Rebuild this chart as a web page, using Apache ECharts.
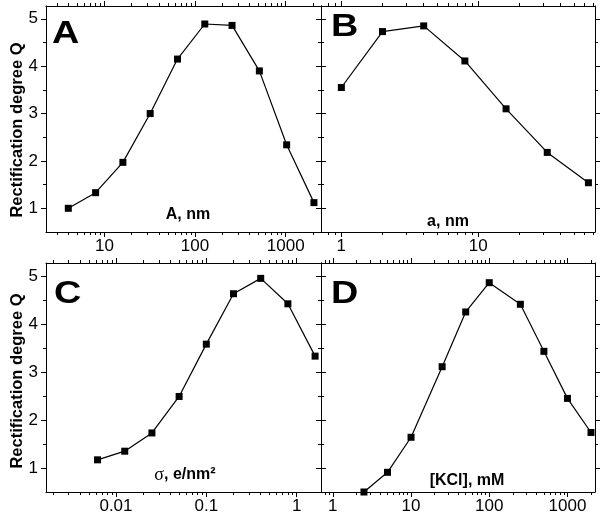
<!DOCTYPE html>
<html><head><meta charset="utf-8">
<script src="https://cdn.jsdelivr.net/npm/echarts@6/dist/echarts.min.js"></script>
<style>html,body{margin:0;padding:0;background:#fff}#c{width:602px;height:520px}</style>
</head><body><div id="c"></div>
<script>
// ---- data ----
const xA = [4, 8, 16, 32, 64, 128, 256, 512, 1024, 2048];
const yA = [1.00, 1.33, 1.97, 3.00, 4.15, 4.89, 4.86, 3.90, 2.34, 1.12];
const xB = [1, 2, 4, 8, 16, 32, 64];
const yB = [3.55, 4.73, 4.85, 4.11, 3.10, 2.18, 1.54];
const xC = [0.00625, 0.0125, 0.025, 0.05, 0.1, 0.2, 0.4, 0.8, 1.6];
const yC = [1.17, 1.35, 1.73, 2.49, 3.58, 4.63, 4.95, 4.42, 3.33];
const xD = [2.5, 5, 10, 25, 50, 100, 250, 500, 1000, 2000];
const yD = [0.5, 0.91, 1.64, 3.11, 4.25, 4.86, 4.41, 3.43, 2.45, 1.74];
const yTickLabels = [1, 2, 3, 4, 5];
const yMinorTicks = [1.5, 2.5, 3.5, 4.5];
const xTickLabelsA = [10, 100, 1000];
const xTickLabelsB = [1, 10];
const xTickLabelsC = [0.01, 0.1, 1];
const xTickLabelsD = [1, 10, 100, 1000];
const xNameA = 'A, nm', xNameB = 'a, nm', xNameC = '{g|σ}, e/nm²', xNameD = '[KCl], mM';
const yName = 'Rectification degree Q';

// ---- layout ----
const FONT = 'Liberation Sans';
const grids = [
  {left: 46, top: 6, width: 275, height: 226, xmin: 2.27, xmax: 2450, labels: xTickLabelsA, showY: true},
  {left: 321, top: 6, width: 274, height: 226, xmin: 0.71, xmax: 71.5, labels: xTickLabelsB, showY: false},
  {left: 46, top: 263, width: 275, height: 229, xmin: 0.00168, xmax: 1.86, labels: xTickLabelsC, showY: true},
  {left: 321, top: 263, width: 274, height: 229, xmin: 0.706, xmax: 2250, labels: xTickLabelsD, showY: false}
];
const YMIN = 0.5, YMAX = 5.27;

function minorTicks(lo, hi) {
  const out = [];
  for (let e = Math.floor(Math.log10(lo)) - 1; e <= Math.ceil(Math.log10(hi)); e++) {
    for (let m = 2; m <= 9; m++) {
      const v = +(m * Math.pow(10, e)).toPrecision(6);
      if (v >= lo && v <= hi) out.push(v);
    }
  }
  return out;
}
function majorTicks(lo, hi) {
  const out = [];
  for (let e = Math.floor(Math.log10(lo)); e <= Math.ceil(Math.log10(hi)); e++) {
    const v = +Math.pow(10, e).toPrecision(6);
    if (v >= lo && v <= hi) out.push(v);
  }
  return out;
}

const LINE = {show: true, onZero: false, lineStyle: {color: '#000', width: 1}};
const xAxes = [], yAxes = [];
grids.forEach((g, gi) => {
  const major = majorTicks(g.xmin, g.xmax), minor = minorTicks(g.xmin, g.xmax);
  ['bottom', 'top'].forEach(pos => {
    xAxes.push({type: 'log', gridIndex: gi, position: pos, min: g.xmin, max: g.xmax,
      axisLine: LINE, splitLine: {show: false},
      axisTick: {show: true, length: 5, customValues: major, lineStyle: {color: '#000', width: 1}},
      axisLabel: {show: pos === 'bottom', customValues: g.labels, margin: 6,
        fontFamily: FONT, fontSize: 17, color: '#000', formatter: v => String(+(+v).toPrecision(6))}});
    xAxes.push({type: 'log', gridIndex: gi, position: pos, min: g.xmin, max: g.xmax,
      axisLine: {show: false}, splitLine: {show: false},
      axisTick: {show: true, length: 3, customValues: minor, lineStyle: {color: '#000', width: 1}},
      axisLabel: {show: false}});
  });
  ['left', 'right'].forEach(pos => {
    yAxes.push({type: 'value', gridIndex: gi, position: pos, min: YMIN, max: YMAX,
      axisLine: LINE, splitLine: {show: false},
      axisTick: {show: true, length: 5, customValues: yTickLabels, lineStyle: {color: '#000', width: 1}},
      axisLabel: {show: pos === 'left' && g.showY, customValues: yTickLabels, margin: 8,
        fontFamily: FONT, fontSize: 17, color: '#000'}});
    yAxes.push({type: 'value', gridIndex: gi, position: pos, min: YMIN, max: YMAX,
      axisLine: {show: false}, splitLine: {show: false},
      axisTick: {show: true, length: 3, customValues: yMinorTicks, lineStyle: {color: '#000', width: 1}},
      axisLabel: {show: false}});
  });
});

const seriesData = [[xA, yA], [xB, yB], [xC, yC], [xD, yD]];
const series = seriesData.map((d, i) => ({
  type: 'line', xAxisIndex: i * 4, yAxisIndex: i * 4,
  data: d[0].map((x, k) => [x, d[1][k]]),
  symbol: 'rect', symbolSize: 7, showSymbol: true, clip: false,
  lineStyle: {color: '#000', width: 1.2},
  itemStyle: {color: '#000'}, animation: false, z: 5
}));

function txt(x, y, text, size, extra) {
  return Object.assign({type: 'text', x: x, y: y, z: 10,
    style: Object.assign({text: text, fontFamily: FONT, fontWeight: 'bold', fontSize: size, fill: '#000',
      align: 'left', verticalAlign: 'middle'}, (extra && extra.style) || {})},
    extra && extra.el || {});
}
const BIG = {el: {scaleX: 1.22}};
const graphic = [
  txt(52, 34, 'A', 31, BIG), txt(331, 27, 'B', 31, BIG), txt(54, 294, 'C', 31, BIG), txt(331, 294, 'D', 31, BIG),
  txt(188, 215, xNameA, 16, {style: {align: 'center'}}),
  txt(448, 222, xNameB, 16, {style: {align: 'center'}}),
  txt(185, 475, xNameC, 16, {style: {align: 'center',
    rich: {g: {fontFamily: 'Liberation Serif', fontWeight: 'normal', fontSize: 18, fill: '#000'}}}}),
  txt(467, 481, xNameD, 16, {style: {align: 'center'}}),
  txt(17, 130, yName, 16.5, {style: {align: 'center'}, el: {rotation: Math.PI / 2}}),
  txt(17, 381, yName, 16.5, {style: {align: 'center'}, el: {rotation: Math.PI / 2}})
];

const chart = echarts.init(document.getElementById('c'), null, {renderer: 'canvas'});
chart.setOption({
  animation: false,
  backgroundColor: '#fff',
  grid: grids.map(g => ({left: g.left, top: g.top, width: g.width, height: g.height, show: false})),
  xAxis: xAxes, yAxis: yAxes, series: series, graphic: graphic
});
</script></body></html>
